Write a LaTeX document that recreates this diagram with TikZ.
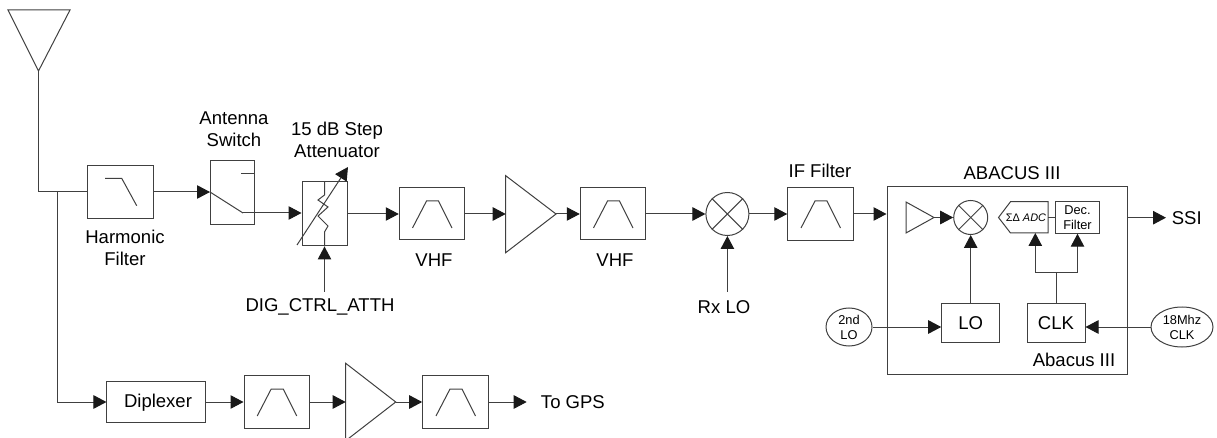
\documentclass[tikz,border=0pt]{standalone}
\usepackage{fontspec}
\setmainfont{Liberation Sans}
\usetikzlibrary{arrows.meta,shapes.geometric}
\def\px{.75pt}
\tikzset{
	block/.style={draw=black!75,line width=.75pt,inner sep=0pt,minimum width=#1*\px},
	label/.style={inner sep=0pt,align=center,font=\fontsize{13.9}{16.5}\selectfont},
	tiny/.style={inner sep=0pt,align=center,font=\fontsize{9.6}{11.3}\selectfont},
	wire/.style={draw=black!75,line width=.75pt},
	conn/.style={wire,-{Triangle[length=13*\px,width=13.5*\px,color=black!90]}},
}
\begin{document}
\begin{tikzpicture}[x=\px,y=-\px]
	\useasboundingbox (0,0) rectangle (1217,438);

	% antenna and harmonic filter
	\coordinate (ant) at (38.5,71);
	\coordinate (split) at (38.5,192);
	\coordinate (tee) at (57.5,192);
	\draw[wire] (8,10) -- (70,10) -- (ant) -- cycle;
	\node[block=65.5,minimum height=52.5*\px] (hpf) at (120.5,192) {};
	\draw[wire] (ant) -- (split) -- (hpf.west);
	\draw[wire] ([xshift=-15.5*\px,yshift=13.7*\px]hpf.center) -- ++(16.7,0) -- ++(15,27.4);
	\node[label] (hpflabel) at (125,247.5) {Harmonic\\Filter};

	% switch and attenuator
	\node[block=44,minimum height=64*\px] (sw) at (232,193) {};
	\coordinate (pole) at (210,192);
	\coordinate (throw) at (243,213);
	\draw[conn] (hpf.east) -- (pole);
	\draw[wire] (pole) -- (throw);
	\draw[wire] (241,174) -- (254,174);
	\node[label] (swlabel) at (234,129.5) {Antenna\\Switch};
	\node[block=45,minimum height=64*\px] (att) at (324.5,214) {};
	\draw[conn] (throw) -- (att.west |- throw);
	\draw[wire] (att.north) -- (324.5,195) -- (318,200) -- (328,207) -- (318,216) -- (328,226) -- (324.5,232) -- (att.south);
	\draw[conn] (297,245) -- (348,167);
	\node[label] (attlabel) at (337,140) {15 dB Step\\Attenuator};
	\coordinate (digctrl) at (324.5,292);
	\draw[conn] (digctrl) -- (att.south);
	\node[label] (diglabel) at (320,307) {DIG\_CTRL\_ATTH};

	% main receive line
	\node[block=65.5,minimum height=52*\px] (vhfa) at (432,214) {};
	\node[block=65.5,minimum height=52*\px] (vhfb) at (613,214) {};
	\node[block=65.5,minimum height=52.5*\px] (iff) at (820.5,214) {};
	\coordinate (ampin) at (505.7,214);
	\coordinate (ampout) at (556,214);
	\draw[wire] (505.7,175.7) -- (ampout) -- (505.7,252.7) -- cycle;
	\node[draw=black!75,line width=.75pt,circle,inner sep=0pt,minimum size=43*\px] (mix) at (727.4,214) {};
	\draw[wire] (mix.north west) -- (mix.south east);
	\draw[wire] (mix.north east) -- (mix.south west);
	\draw[conn] (att.east) -- (vhfa.west);
	\draw[conn] (vhfa.east) -- (ampin);
	\draw[conn] (ampout) -- (vhfb.west);
	\draw[conn] (vhfb.east) -- (mix.west);
	\draw[conn] (mix.east) -- (iff.west);
	\node[label] (vhfalabel) at (434,260) {VHF};
	\node[label] (vhfblabel) at (615,260) {VHF};
	\node[label] (ifflabel) at (820,171) {IF Filter};
	\coordinate (rxlo) at (727.4,292);
	\draw[conn] (rxlo) -- (mix.south);
	\node[label] (rxlabel) at (724,307) {Rx LO};

	% abacus block
	\node[block=240,minimum height=187*\px] (abacus) at (1007,280.5) {};
	\node[label] (abacustitle) at (1012,172.7) {ABACUS III};
	\node[label] (abacusname) at (1074,360) {Abacus III};
	\draw[conn] (iff.east) -- (abacus.west |- iff.east);
	\coordinate (ampiin) at (906,217.5);
	\coordinate (ampiout) at (934,217.5);
	\draw[wire] (906,202) -- (ampiout) -- (906,233) -- cycle;
	\node[draw=black!75,line width=.75pt,circle,inner sep=0pt,minimum size=34*\px] (mixi) at (970.7,217.5) {};
	\draw[wire] (mixi.north west) -- (mixi.south east);
	\draw[wire] (mixi.north east) -- (mixi.south west);
	\draw[conn] (ampiout) -- (mixi.west);
	\coordinate (adceast) at (1048,217.5);
	\coordinate (adcsouth) at (1035.3,233);
	\draw[wire] (998.5,217.5) -- (1010.5,201.7) -- (1048,201.7) -- (1048,233) -- (1010.5,233) -- cycle;
	\node[inner sep=0pt,font=\fontsize{8.2}{9}\selectfont] (adc) at (1026,217.5) {ΣΔ \textit{ADC}};
	\node[block=43.5,minimum height=31.5*\px,tiny] (dec) at (1077.5,217.5) {Dec.\\Filter};
	\draw[wire] (adceast) -- (dec.west);
	\node[block=58,minimum height=39*\px,label] (lo) at (970.7,323) {LO};
	\node[block=58,minimum height=39*\px,label] (clk) at (1056,323) {CLK};
	\draw[conn] (lo.north) -- (mixi.south);
	\coordinate (fork) at (1056,272.5);
	\draw[wire] (clk.north) -- (fork);
	\draw[conn] (fork) -| (adcsouth);
	\draw[conn] (fork) -| (dec.south);
	\node[draw=black!75,line width=.75pt,ellipse,inner sep=0pt,minimum width=46*\px,minimum height=38*\px,tiny] (lotwo) at (849,327) {2nd\\LO};
	\node[draw=black!75,line width=.75pt,ellipse,inner sep=0pt,minimum width=62*\px,minimum height=40*\px,tiny] (clkin) at (1182,327) {18Mhz\\CLK};
	\draw[conn] (lotwo.east) -- (lo.west |- lotwo.east);
	\draw[conn] (clkin.west) -- (clk.east |- clkin.west);
	\node[label,anchor=west] (ssi) at (1171.5,217.7) {SSI};
	\coordinate (ssiend) at (1166,217.7);
	\draw[conn] (abacus.east |- ssiend) -- (ssiend);

	% gps branch
	\node[block=98.7,minimum height=41.4*\px] (dip) at (156.3,402) {};
	\node[label] (diplabel) at (158,403) {Diplexer};
	\node[block=65.4,minimum height=52.4*\px] (gpsa) at (276.7,402) {};
	\coordinate (ampgin) at (345.7,402);
	\coordinate (ampgout) at (395.7,402);
	\draw[wire] (345.7,363.3) -- (ampgout) -- (345.7,440.7) -- cycle;
	\node[block=65.6,minimum height=52.4*\px] (gpsb) at (455.5,402) {};
	\draw[conn] (tee) -- (57.5,402) -- (dip.west);
	\draw[conn] (dip.east) -- (gpsa.west);
	\draw[conn] (gpsa.east) -- (ampgin);
	\draw[conn] (ampgout) -- (gpsb.west);
	\node[label,anchor=west] (gpslabel) at (540.7,402) {To GPS};
	\coordinate (gpsend) at (526.7,402);
	\draw[conn] (gpsb.east) -- (gpsend);

	% passband symbols
	\foreach \flt in {vhfa,vhfb,iff,gpsa,gpsb}
		\draw[wire] ([xshift=-19.5*\px,yshift=-14*\px]\flt.center) -- ++(14,-27) -- ++(12,0) -- ++(13.5,27);
\end{tikzpicture}
\end{document}
